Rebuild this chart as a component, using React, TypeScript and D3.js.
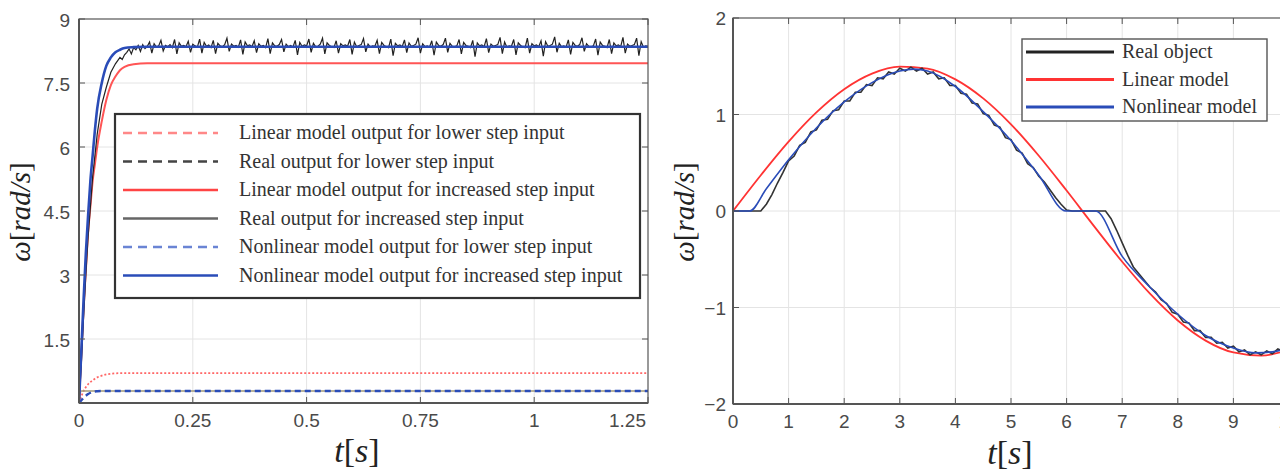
import React from "react";
import * as d3 from "d3";

// ---------- left panel: step responses ----------
const stepXTicks = [0, 0.25, 0.5, 0.75, 1, 1.25];
const stepXLabels = ["0", "0.25", "0.5", "0.75", "1", "1.25"];
const stepYTicks = [1.5, 3, 4.5, 6, 7.5, 9];
const stepYLabels = ["1.5", "3", "4.5", "6", "7.5", "9"];

const stepT = [0, 0.005, 0.01, 0.015, 0.02, 0.025, 0.03, 0.035, 0.04, 0.05, 0.06, 0.07, 0.08, 0.09, 0.1, 0.12, 0.15, 0.2, 1.25];
const nonlinHigh = [0, 1.2, 2.4, 3.5, 4.4, 5.2, 5.8, 6.4, 6.9, 7.5, 7.9, 8.1, 8.22, 8.28, 8.32, 8.34, 8.35, 8.35, 8.35];
const linearHigh = [0, 1.1, 2.2, 3.1, 4.0, 4.6, 5.2, 5.6, 6.0, 6.6, 7.1, 7.45, 7.65, 7.8, 7.88, 7.94, 7.96, 7.96, 7.96];
const linearLow = [0, 0.15, 0.28, 0.37, 0.44, 0.49, 0.53, 0.57, 0.6, 0.64, 0.67, 0.685, 0.695, 0.7, 0.7, 0.7, 0.7, 0.7, 0.7];
const nonlinLow = [0, 0.06, 0.12, 0.17, 0.21, 0.24, 0.26, 0.27, 0.275, 0.28, 0.28, 0.28, 0.28, 0.28, 0.28, 0.28, 0.28, 0.28, 0.28];
const realLow = [0, 0.28, 0.28, 0.28, 0.28, 0.28, 0.28, 0.28, 0.28, 0.28, 0.28, 0.28, 0.28, 0.28, 0.28, 0.28, 0.28, 0.28, 0.28];

// real output, increased step: rise, then noisy samples every 5 ms from 0.1 s
const realHighRiseT = [0, 0.005, 0.01, 0.015, 0.02, 0.03, 0.04, 0.05, 0.06, 0.07, 0.08, 0.09, 0.095];
const realHighRise = [0, 0.9, 2.0, 3.0, 3.9, 5.3, 6.3, 7.0, 7.4, 7.75, 7.95, 8.1, 8.05];
const realHighNoiseStart = 0.1;
const realHighNoiseStep = 0.005;
const realHighNoise = [
  8.16, 8.22, 8.30, 8.18, 8.33, 8.28, 8.38, 8.24, 8.40, 8.31,
  8.36, 8.46, 8.20, 8.42, 8.34, 8.37, 8.50, 8.25, 8.38, 8.35,
  8.40, 8.33, 8.52, 8.18, 8.44, 8.36, 8.38, 8.35, 8.48, 8.22,
  8.41, 8.37, 8.34, 8.53, 8.20, 8.45, 8.36, 8.39, 8.33, 8.50,
  8.19, 8.43, 8.37, 8.35, 8.40, 8.55, 8.24, 8.41, 8.36, 8.38,
  8.34, 8.51, 8.17, 8.46, 8.37, 8.39, 8.35, 8.49, 8.21, 8.42,
  8.36, 8.38, 8.33, 8.54, 8.19, 8.44, 8.37, 8.36, 8.40, 8.52,
  8.23, 8.41, 8.35, 8.38, 8.34, 8.50, 8.16, 8.45, 8.36, 8.39,
  8.37, 8.53, 8.22, 8.43, 8.35, 8.36, 8.41, 8.55, 8.18, 8.44,
  8.38, 8.35, 8.33, 8.49, 8.20, 8.42, 8.37, 8.39, 8.36, 8.52,
  8.17, 8.46, 8.35, 8.38, 8.40, 8.54, 8.23, 8.41, 8.34, 8.37,
  8.36, 8.50, 8.19, 8.45, 8.38, 8.35, 8.33, 8.53, 8.14, 8.43,
  8.37, 8.39, 8.35, 8.51, 8.21, 8.44, 8.36, 8.38, 8.41, 8.56,
  8.20, 8.42, 8.35, 8.37, 8.34, 8.49, 8.15, 8.46, 8.38, 8.36,
  8.40, 8.55, 8.22, 8.43, 8.36, 8.35, 8.37, 8.52, 8.18, 8.45,
  8.38, 8.36, 8.33, 8.50, 8.12, 8.44, 8.37, 8.39, 8.35, 8.54,
  8.21, 8.41, 8.36, 8.38, 8.40, 8.57, 8.19, 8.46, 8.34, 8.37,
  8.36, 8.52, 8.16, 8.44, 8.38, 8.35, 8.33, 8.55, 8.20, 8.42,
  8.37, 8.39, 8.35, 8.49, 8.13, 8.47, 8.36, 8.38, 8.41, 8.58,
  8.22, 8.43, 8.35, 8.37, 8.34, 8.51, 8.17, 8.45, 8.38, 8.36,
  8.40, 8.56, 8.24, 8.42, 8.36, 8.35, 8.37, 8.53, 8.15, 8.46,
  8.38, 8.36, 8.33, 8.52, 8.19, 8.44, 8.37, 8.39, 8.35, 8.57,
  8.20, 8.41, 8.36, 8.38, 8.40, 8.55, 8.14, 8.47, 8.34, 8.37,
  8.36,
];

const stepLegend = [
  "Linear model output for lower step input",
  "Real output for lower step input",
  "Linear model output for increased step input",
  "Real output for increased step input",
  "Nonlinear model output for lower step input",
  "Nonlinear model output for increased step input",
];
const stepLegendStyle = [
  { stroke: "#f88", dash: "9,6" },
  { stroke: "#444", dash: "9,6" },
  { stroke: "#f44", dash: "" },
  { stroke: "#666", dash: "" },
  { stroke: "#6a84d4", dash: "9,6" },
  { stroke: "#2a4cb8", dash: "" },
];

// ---------- right panel: sine tracking ----------
const sineXTicks = [0, 1, 2, 3, 4, 5, 6, 7, 8, 9, 10];
const sineYTicks = [-2, -1, 0, 1, 2];
const sineYLabels = ["\u22122", "\u22121", "0", "1", "2"];

const linearT = [0, 0.5, 1, 1.5, 2, 2.5, 3, 3.5, 4, 4.5, 5, 5.5, 6, 6.5, 7, 7.5, 8, 8.5, 9, 9.5, 10];
const linearSine = [0, 0.371, 0.719, 1.022, 1.262, 1.424, 1.496, 1.476, 1.364, 1.167, 0.898, 0.573, 0.212, -0.162, -0.526, -0.857, -1.135, -1.343, -1.466, -1.499, -1.438];

const nonlinT = [0, 0.3, 0.6, 1, 1.5, 2, 2.5, 3, 3.25, 3.5, 4, 4.5, 5, 5.5, 5.99, 6.52, 7, 7.5, 8, 8.5, 9, 9.4, 9.7, 10];
const nonlinSine = [0, 0, 0.23, 0.53, 0.86, 1.13, 1.33, 1.45, 1.47, 1.45, 1.29, 1.03, 0.73, 0.37, 0, 0, -0.47, -0.79, -1.07, -1.29, -1.42, -1.47, -1.46, -1.42];

// real object, sampled every 0.1 s
const realSineStep = 0.1;
const realSine = [
  0, 0, 0, 0, 0, 0, 0.07, 0.17, 0.29, 0.40,
  0.52, 0.57, 0.68, 0.71, 0.82, 0.84, 0.94, 0.95, 1.04, 1.05,
  1.14, 1.14, 1.23, 1.23, 1.31, 1.30, 1.38, 1.37, 1.44, 1.42,
  1.48, 1.45, 1.49, 1.45, 1.48, 1.42, 1.44, 1.37, 1.38, 1.30,
  1.30, 1.22, 1.21, 1.12, 1.11, 1.01, 0.99, 0.89, 0.87, 0.76,
  0.74, 0.63, 0.60, 0.49, 0.45, 0.36, 0.30, 0.22, 0.14, 0.07,
  0.01, 0, 0, 0, 0, 0, 0, 0, -0.08, -0.20,
  -0.33, -0.46, -0.58, -0.65, -0.72, -0.79, -0.84, -0.92, -0.96, -1.05,
  -1.07, -1.15, -1.16, -1.24, -1.24, -1.31, -1.31, -1.37, -1.36, -1.42,
  -1.40, -1.46, -1.44, -1.49, -1.46, -1.49, -1.45, -1.48, -1.43, -1.45,
  -1.41,
];

const sineLegend = ["Real object", "Linear model", "Nonlinear model"];
const sineLegendColor = ["#222", "#f33", "#2a4cb8"];

const tickFont = "'Liberation Sans', Arial, sans-serif";
const serif = "'Liberation Serif', 'Times New Roman', serif";
const tickColor = "#4a4a4a";
const gridColor = "#e4e4e4";

const OmegaLabel = ({ x, y }: { x: number; y: number }) => (
  <text transform={`translate(${x},${y}) rotate(-90)`} textAnchor="middle" fontFamily={serif} fontSize={29} fill="#222">
    <tspan fontStyle="italic">ω</tspan>[<tspan fontStyle="italic">rad/s</tspan>]
  </text>
);

const TLabel = ({ x, y }: { x: number; y: number }) => (
  <text x={x} y={y} textAnchor="middle" fontFamily={serif} fontSize={34} fill="#222">
    <tspan fontStyle="italic">t</tspan>[<tspan fontStyle="italic">s</tspan>]
  </text>
);

const App = () => {
  // left scales
  const lx = d3.scaleLinear().domain([0, 1.25]).range([79, 648]);
  const ly = d3.scaleLinear().domain([0, 9]).range([403, 19]);
  // right scales
  const rx = d3.scaleLinear().domain([0, 10]).range([733, 1289]);
  const ry = d3.scaleLinear().domain([-2, 2]).range([404, 18]);

  const lLine = d3
    .line<[number, number]>()
    .x((d) => lx(d[0]))
    .y((d) => ly(d[1]))
    .curve(d3.curveMonotoneX);
  const lRaw = d3
    .line<[number, number]>()
    .x((d) => lx(d[0]))
    .y((d) => ly(d[1]));
  const rLine = d3
    .line<[number, number]>()
    .x((d) => rx(d[0]))
    .y((d) => ry(d[1]))
    .curve(d3.curveMonotoneX);
  const rRaw = d3
    .line<[number, number]>()
    .x((d) => rx(d[0]))
    .y((d) => ry(d[1]));

  const zip = (t: number[], v: number[]) => t.map((d, i) => [d, v[i]] as [number, number]);

  const realHighPts: [number, number][] = [
    ...zip(realHighRiseT, realHighRise),
    ...realHighNoise.map((v, i) => [realHighNoiseStart + i * realHighNoiseStep, v] as [number, number]),
  ];
  const realSinePts = realSine.map((v, i) => [i * realSineStep, v] as [number, number]);

  const [lx0, lx1] = lx.range();
  const [ly0, ly1] = ly.range();
  const [rx0, rx1] = rx.range();
  const [ry0, ry1] = ry.range();

  return (
    <svg width={1280} height={471} style={{ position: "absolute", left: 0, top: 0, background: "#fff" }}>
      <defs>
        <clipPath id="clipL">
          <rect x={lx0} y={ly1} width={lx1 - lx0} height={ly0 - ly1} />
        </clipPath>
        <clipPath id="clipR">
          <rect x={rx0} y={ry1} width={rx1 - rx0} height={ry0 - ry1} />
        </clipPath>
      </defs>

      {/* ---------------- left panel ---------------- */}
      <g>
        {stepXTicks.slice(1, -1).map((t) => (
          <line key={t} x1={lx(t)} x2={lx(t)} y1={ly1} y2={ly0} stroke={gridColor} />
        ))}
        {stepYTicks.slice(0, -1).map((t) => (
          <line key={t} x1={lx0} x2={lx1} y1={ly(t)} y2={ly(t)} stroke={gridColor} />
        ))}

        <g clipPath="url(#clipL)" fill="none">
          <path d={lLine(zip(stepT, linearLow)) || ""} stroke="#f66" strokeWidth={1.8} strokeDasharray="2,2" />
          <path d={lLine(zip(stepT, realLow)) || ""} stroke="#a39a7a" strokeWidth={1.6} />
          <path d={lLine(zip(stepT, nonlinLow)) || ""} stroke="#2a4cb8" strokeWidth={2.4} strokeDasharray="6,4" />
          <path d={lLine(zip(stepT, linearHigh)) || ""} stroke="#f55" strokeWidth={2} />
          <path d={lRaw(realHighPts) || ""} stroke="#222" strokeWidth={1.2} />
          <path d={lLine(zip(stepT, nonlinHigh)) || ""} stroke="#2a4cb8" strokeWidth={2.6} />
        </g>

        {/* frame and ticks */}
        <rect x={lx0} y={ly1} width={lx1 - lx0} height={ly0 - ly1} fill="none" stroke="#555" strokeWidth={1.2} />
        <line x1={lx0} x2={lx0} y1={ly1} y2={ly0} stroke="#555" strokeWidth={2} />
        <line x1={lx0} x2={lx1} y1={ly0} y2={ly0} stroke="#555" strokeWidth={2} />
        {stepXTicks.map((t) => (
          <g key={t} stroke="#555">
            <line x1={lx(t)} x2={lx(t)} y1={ly0} y2={ly0 - 6} />
            <line x1={lx(t)} x2={lx(t)} y1={ly1} y2={ly1 + 6} />
          </g>
        ))}
        {stepYTicks.map((t) => (
          <g key={t} stroke="#555">
            <line x1={lx0} x2={lx0 + 6} y1={ly(t)} y2={ly(t)} />
            <line x1={lx1} x2={lx1 - 6} y1={ly(t)} y2={ly(t)} />
          </g>
        ))}
        {stepXTicks.map((t, i) => (
          <text
            key={t}
            x={i === stepXTicks.length - 1 ? lx(t) - 2 : lx(t)}
            y={ly0 + 24}
            textAnchor={i === stepXTicks.length - 1 ? "end" : "middle"}
            fontFamily={tickFont}
            fontSize={19}
            fill={tickColor}
          >
            {stepXLabels[i]}
          </text>
        ))}
        {stepYTicks.map((t, i) => (
          <text key={t} x={lx0 - 9} y={ly(t) + 8} textAnchor="end" fontFamily={tickFont} fontSize={19} fill={tickColor}>
            {stepYLabels[i]}
          </text>
        ))}

        {/* legend */}
        <rect x={115} y={114} width={525} height={184} fill="#fff" stroke="#333" strokeWidth={2.2} />
        {stepLegend.map((label, i) => {
          const y = 133 + i * 28.5;
          return (
            <g key={label}>
              <line x1={123} x2={218} y1={y} y2={y} stroke={stepLegendStyle[i].stroke} strokeWidth={2.4} strokeDasharray={stepLegendStyle[i].dash} />
              <text x={239} y={y + 6} fontFamily={serif} fontSize={20} fill="#333">
                {label}
              </text>
            </g>
          );
        })}

        <OmegaLabel x={30} y={212} />
        <TLabel x={357} y={462} />
      </g>

      {/* ---------------- right panel ---------------- */}
      <g>
        {sineXTicks.slice(1, -1).map((t) => (
          <line key={t} x1={rx(t)} x2={rx(t)} y1={ry1} y2={ry0} stroke={gridColor} />
        ))}
        {sineYTicks.slice(1, -1).map((t) => (
          <line key={t} x1={rx0} x2={rx1} y1={ry(t)} y2={ry(t)} stroke={gridColor} />
        ))}

        <g clipPath="url(#clipR)" fill="none">
          <path d={rLine(zip(linearT, linearSine)) || ""} stroke="#f33" strokeWidth={1.8} />
          <path d={rRaw(realSinePts) || ""} stroke="#333" strokeWidth={1.6} />
          <path d={rLine(zip(nonlinT, nonlinSine)) || ""} stroke="#2a4cb8" strokeWidth={1.6} />
        </g>

        <rect x={rx0} y={ry1} width={rx1 - rx0} height={ry0 - ry1} fill="none" stroke="#555" strokeWidth={1.2} />
        <line x1={rx0} x2={rx0} y1={ry1} y2={ry0} stroke="#555" strokeWidth={2} />
        <line x1={rx0} x2={rx1} y1={ry0} y2={ry0} stroke="#555" strokeWidth={2} />
        {sineXTicks.map((t) => (
          <g key={t} stroke="#555">
            <line x1={rx(t)} x2={rx(t)} y1={ry0} y2={ry0 - 6} />
            <line x1={rx(t)} x2={rx(t)} y1={ry1} y2={ry1 + 6} />
          </g>
        ))}
        {sineYTicks.map((t) => (
          <line key={t} x1={rx0} x2={rx0 + 6} y1={ry(t)} y2={ry(t)} stroke="#555" />
        ))}
        {sineXTicks.map((t) => (
          <text key={t} x={rx(t)} y={ry0 + 24} textAnchor="middle" fontFamily={tickFont} fontSize={19} fill={tickColor}>
            {String(t)}
          </text>
        ))}
        {sineYTicks.map((t, i) => (
          <text key={t} x={rx0 - 7} y={ry(t) + 7} textAnchor="end" fontFamily={tickFont} fontSize={19} fill={tickColor}>
            {sineYLabels[i]}
          </text>
        ))}

        {/* legend */}
        <rect x={1022} y={39} width={245} height={82} fill="#fff" stroke="#555" strokeWidth={1.4} />
        {sineLegend.map((label, i) => {
          const y = 52 + i * 27.5;
          return (
            <g key={label}>
              <line x1={1026} x2={1114} y1={y} y2={y} stroke={sineLegendColor[i]} strokeWidth={3} />
              <text x={1122} y={y + 6} fontFamily={serif} fontSize={20} fill="#333">
                {label}
              </text>
            </g>
          );
        })}

        <OmegaLabel x={694} y={212} />
        <TLabel x={1010} y={464} />
      </g>
    </svg>
  );
};

export default App;
